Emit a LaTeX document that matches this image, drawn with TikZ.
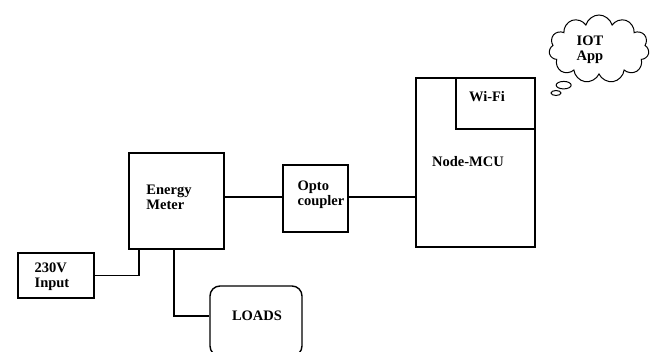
\documentclass[tikz,border=0pt]{standalone}
\usepackage{fontspec}
\setmainfont{Liberation Serif}
\usetikzlibrary{shapes.symbols,shapes.callouts}
\begin{document}
\begin{tikzpicture}[x=1pt,y=-1pt,
  box/.style={draw,line width=1.4pt,rectangle,inner sep=0pt},
  lbl/.style={font=\bfseries\fontsize{14.5}{15}\selectfont,align=left,inner sep=0pt},
  wire/.style={line width=1.4pt}]
\useasboundingbox (0,0) rectangle (659,352);
\begin{scope}
\clip (0,0) rectangle (659,352);
% boxes
\node[box,minimum width=95,minimum height=96] (em) at (176.5,201) {};
\node[lbl] (emt) at (169,197) {Energy\\Meter};
\node[box,minimum width=65,minimum height=67] (op) at (315.5,198.5) {};
\node[lbl] (opt) at (321,195) {Opto\\coupler};
\node[box,minimum width=119,minimum height=169] (mcu) at (475.5,162.5) {};
\node[lbl] (mcut) at (468,162) {Node-MCU};
\node[box,minimum width=79,minimum height=51] (wifi) at (495.5,103.5) {};
\node[lbl] (wifit) at (487,97) {Wi-Fi};
\node[box,minimum width=76,minimum height=45] (in) at (56,275.5) {};
\node[lbl] (int) at (52,277) {230V\\Input};
\node[box,rounded corners=10pt,minimum width=92,minimum height=70] (ld) at (256,321) {};
\node[lbl] (ldt) at (257,316) {LOADS};
% cloud
\node[draw,line width=1pt,cloud callout,cloud puffs=11,aspect=1.5,
      minimum width=100,minimum height=68,inner sep=0pt,
      callout absolute pointer={(556,93)}] (iot) at (599,49) {};
\node[lbl,align=center] (iott) at (590,50) {IOT\\App};
% connectors
\coordinate (j1) at (139,249);
\coordinate (j2) at (174,249);
\draw[wire] (in.east) -| (j1);
\draw[wire] (j2) |- (ld.west |- ldt.center);
\draw[wire] (em.east |- 0,197) -- (op.west |- 0,197);
\draw[wire] (op.east |- 0,197) -- (mcu.west |- 0,197);
\end{scope}
\end{tikzpicture}
\end{document}
